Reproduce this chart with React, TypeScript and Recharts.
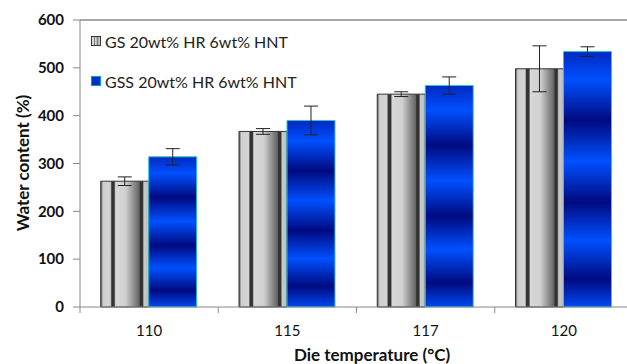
import { BarChart, Bar, XAxis, YAxis, ErrorBar, ReferenceLine, Label } from "recharts";

const temperatures = ["110", "115", "117", "120"];
const gsValues = [263, 367, 445, 498];
const gsErrors = [9, 6, 5, 48];
const gssValues = [314, 390, 463, 534];
const gssErrors = [17, 30, 18, 10];
const yTicks = [0, 100, 200, 300, 400, 500, 600];

const gsName = "GS 20wt% HR 6wt% HNT";
const gssName = "GSS 20wt% HR 6wt% HNT";

const data = temperatures.map((t, i) => ({
  temp: t,
  gs: gsValues[i],
  gsErr: gsErrors[i],
  gss: gssValues[i],
  gssErr: gssErrors[i],
}));

const font = "Lato, 'Open Sans', sans-serif";

// category label centred in the band, tick mark on the band's left edge
const XTick = ({ x, y, payload }: any) => {
  const off = payload?.offset ?? 69;
  return (
    <g>
      <line x1={x - off} y1={y} x2={x - off} y2={y + 6} stroke="#888" />
      <text x={x} y={y + 29} textAnchor="middle" fontSize={15} fill="#111" fontFamily={font}>
        {payload.value}
      </text>
    </g>
  );
};

// legend sits inside the plot, top-left, so it is drawn as an overlay
const LegendBox = () => (
  <div style={{ position: "absolute", left: 91, top: 21, fontFamily: font, fontSize: 16, color: "#222" }}>
    {[
      { name: gsName, fill: "url(#gsGradLegend)", stroke: "#333" },
      { name: gssName, fill: "#0030c8", stroke: "#00a0c0" },
    ].map((item) => (
      <div key={item.name} style={{ display: "flex", alignItems: "center", height: 40 }}>
        <svg width={10} height={10} style={{ marginRight: 4 }}>
          <defs>
            <linearGradient id="gsGradLegend" x1="0" y1="0" x2="1" y2="0">
              <stop offset="0" stopColor="#ddd" />
              <stop offset="0.3" stopColor="#ddd" />
              <stop offset="0.35" stopColor="#444" />
              <stop offset="0.45" stopColor="#ddd" />
              <stop offset="0.65" stopColor="#999" />
              <stop offset="0.7" stopColor="#444" />
              <stop offset="0.8" stopColor="#ccc" />
            </linearGradient>
          </defs>
          <rect x={0.5} y={0.5} width={9} height={9} fill={item.fill} stroke={item.stroke} />
        </svg>
        <span>{item.name}</span>
      </div>
    ))}
  </div>
);

export default function App() {
  return (
    <div style={{ position: "relative", width: 627, height: 364, overflow: "hidden", background: "#fff" }}>
      <style>{`body{margin:0}`}</style>
      <BarChart
        width={634}
        height={364}
        data={data}
        margin={{ top: 20, right: 1, bottom: 0, left: 0 }}
        barCategoryGap="15%"
        barGap={0}
      >
        <defs>
          <linearGradient id="gsGrad" x1="0" y1="0" x2="1" y2="0">
            <stop offset="0" stopColor="#555" />
            <stop offset="0.05" stopColor="#cfcfcf" />
            <stop offset="0.2" stopColor="#d4d4d4" />
            <stop offset="0.23" stopColor="#333" />
            <stop offset="0.28" stopColor="#333" />
            <stop offset="0.31" stopColor="#d8d8d8" />
            <stop offset="0.52" stopColor="#d0d0d0" />
            <stop offset="0.7" stopColor="#8a8a8a" />
            <stop offset="0.8" stopColor="#666" />
            <stop offset="0.82" stopColor="#333" />
            <stop offset="0.87" stopColor="#333" />
            <stop offset="0.9" stopColor="#cacaca" />
            <stop offset="1" stopColor="#bdbdbd" />
          </linearGradient>
          <linearGradient id="gssGrad" x1="0" y1="0" x2="0" y2="1">
            <stop offset="0" stopColor="#0028c0" />
            <stop offset="0.11" stopColor="#0050ff" />
            <stop offset="0.27" stopColor="#000a80" />
            <stop offset="0.43" stopColor="#0050ff" />
            <stop offset="0.59" stopColor="#000a80" />
            <stop offset="0.74" stopColor="#0050ff" />
            <stop offset="0.89" stopColor="#000a80" />
            <stop offset="1" stopColor="#0048f0" />
          </linearGradient>
        </defs>
        <XAxis
          dataKey="temp"
          height={57}
          tickLine={false}
          tickSize={0}
          tickMargin={0}
          stroke="#888"
          tick={<XTick />}
          interval={0}
        >
          <Label
            content={() => (
              <text x={372} y={354} textAnchor="middle" dominantBaseline="central" fontSize={17} fontWeight={700} fill="#111" fontFamily={font}>
                Die temperature (°C)
              </text>
            )}
          />
        </XAxis>
        <YAxis
          width={80}
          domain={[0, 600]}
          ticks={yTicks}
          tickSize={7}
          tickMargin={9}
          stroke="#888"
          tick={{ fill: "#111", fontSize: 15, fontWeight: 700, fontFamily: font }}
        >
          <Label
            content={() => (
              <text x={22} y={163} transform="rotate(-90 22 163)" textAnchor="middle" dominantBaseline="central" fontSize={17} fontWeight={700} fill="#111" fontFamily={font}>
                Water content (%)
              </text>
            )}
          />
        </YAxis>
        <ReferenceLine y={600} stroke="#888" strokeWidth={1.5} />
        <Bar dataKey="gs" name={gsName} fill="url(#gsGrad)" stroke="#333" strokeWidth={1} isAnimationActive={false}>
          <ErrorBar dataKey="gsErr" width={7} stroke="#222" strokeWidth={1} direction="y" />
        </Bar>
        <Bar dataKey="gss" name={gssName} fill="url(#gssGrad)" stroke="#30c8c8" strokeWidth={1} isAnimationActive={false}>
          <ErrorBar dataKey="gssErr" width={7} stroke="#222" strokeWidth={1} direction="y" />
        </Bar>
      </BarChart>
      <LegendBox />
    </div>
  );
}
